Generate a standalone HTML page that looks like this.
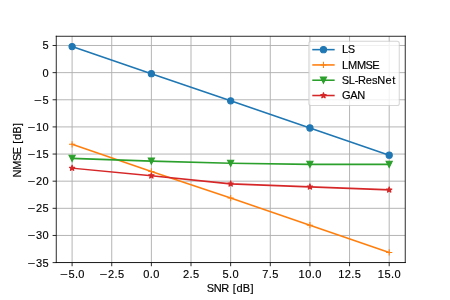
<!DOCTYPE html>
<html lang="en"><head><meta charset="utf-8"><title>NMSE vs SNR</title>
<style>
html,body{margin:0;padding:0;background:#ffffff;overflow:hidden}
svg{display:block}
text{font-family:"Liberation Sans",sans-serif;font-size:10.6px;fill:#000000;stroke:#000000;stroke-width:0.15;stroke-linejoin:round}
.grid line{stroke:#b0b0b0;stroke-width:0.9;stroke-linecap:butt}
.ticks line,.spines line{stroke:#000000;stroke-width:0.8}
.spines line{stroke-linecap:square}
.ser{fill:none;stroke-width:1.5;stroke-linecap:square;stroke-linejoin:round}
</style></head><body>
<svg width="450" height="300" viewBox="0 0 432 288">
<defs>
<clipPath id="ax"><rect x="54" y="34.819" width="334.848" height="217.277"/></clipPath>
<circle id="mo" r="3" stroke-width="1"/>
<path id="mp" d="M-3 0H3M0 3V-3" stroke-width="1" fill="none"/>
<path id="mv" d="M0 3L3 -3L-3 -3Z" stroke-width="1" stroke-linejoin="miter"/>
<path id="ms" d="M0 -3L-0.674 -0.927L-2.853 -0.927L-1.09 0.354L-1.763 2.427L0 1.146L1.763 2.427L1.09 0.354L2.853 -0.927L0.674 -0.927Z" stroke-width="1" stroke-linejoin="bevel"/>
<filter id="soft" x="0" y="0" width="432" height="288" filterUnits="userSpaceOnUse" color-interpolation-filters="sRGB"><feGaussianBlur stdDeviation="0.3"/></filter>
</defs>
<rect x="0" y="0" width="432" height="288" fill="#ffffff"/>
<g filter="url(#soft)">
<g class="grid">
<line x1="69.22" y1="252.096" x2="69.22" y2="34.819"/>
<line x1="107.271" y1="252.096" x2="107.271" y2="34.819"/>
<line x1="145.322" y1="252.096" x2="145.322" y2="34.819"/>
<line x1="183.373" y1="252.096" x2="183.373" y2="34.819"/>
<line x1="221.424" y1="252.096" x2="221.424" y2="34.819"/>
<line x1="259.475" y1="252.096" x2="259.475" y2="34.819"/>
<line x1="297.526" y1="252.096" x2="297.526" y2="34.819"/>
<line x1="335.577" y1="252.096" x2="335.577" y2="34.819"/>
<line x1="373.628" y1="252.096" x2="373.628" y2="34.819"/>
<line x1="54" y1="252.096" x2="388.848" y2="252.096"/>
<line x1="54" y1="226.044" x2="388.848" y2="226.044"/>
<line x1="54" y1="199.991" x2="388.848" y2="199.991"/>
<line x1="54" y1="173.939" x2="388.848" y2="173.939"/>
<line x1="54" y1="147.887" x2="388.848" y2="147.887"/>
<line x1="54" y1="121.834" x2="388.848" y2="121.834"/>
<line x1="54" y1="95.782" x2="388.848" y2="95.782"/>
<line x1="54" y1="69.729" x2="388.848" y2="69.729"/>
<line x1="54" y1="43.677" x2="388.848" y2="43.677"/>
</g>
<g class="xt">
<text x="57.508" y="266.694" textLength="7.522" lengthAdjust="spacingAndGlyphs">−</text>
<text x="65.692 71.937 75.233" y="266.694">5.0</text>
<text x="95.559" y="266.694" textLength="7.522" lengthAdjust="spacingAndGlyphs">−</text>
<text x="103.743 109.988 113.284" y="266.694">2.5</text>
<text x="137.604 143.85 147.145" y="266.694">0.0</text>
<text x="175.655 181.901 185.196" y="266.694">2.5</text>
<text x="213.706 219.951 223.247" y="266.694">5.0</text>
<text x="251.757 258.002 261.298" y="266.694">7.5</text>
<text x="286.627 292.989 299.234 302.53" y="266.694">10.0</text>
<text x="324.677 331.04 337.285 340.581" y="266.694">12.5</text>
<text x="362.728 369.091 375.336 378.632" y="266.694">15.0</text>
</g>
<g class="yt">
<text x="26.325" y="255.895" textLength="7.522" lengthAdjust="spacingAndGlyphs">−</text>
<text x="34.509 40.871" y="255.895">35</text>
<text x="26.325" y="229.843" textLength="7.522" lengthAdjust="spacingAndGlyphs">−</text>
<text x="34.509 40.871" y="229.843">30</text>
<text x="26.325" y="203.79" textLength="7.522" lengthAdjust="spacingAndGlyphs">−</text>
<text x="34.509 40.871" y="203.79">25</text>
<text x="26.325" y="177.738" textLength="7.522" lengthAdjust="spacingAndGlyphs">−</text>
<text x="34.509 40.871" y="177.738">20</text>
<text x="26.325" y="151.686" textLength="7.522" lengthAdjust="spacingAndGlyphs">−</text>
<text x="34.509 40.871" y="151.686">15</text>
<text x="26.325" y="125.633" textLength="7.522" lengthAdjust="spacingAndGlyphs">−</text>
<text x="34.509 40.871" y="125.633">10</text>
<text x="32.688" y="99.581" textLength="7.522" lengthAdjust="spacingAndGlyphs">−</text>
<text x="40.871" y="99.581">5</text>
<text x="40.871" y="73.528">0</text>
<text x="40.871" y="47.476">5</text>
</g>
<text x="198.58 205.201 212.416 219.834 223.374 227.024 233.04 240.484" y="280.373">SNR [dB]</text>
<g transform="translate(19.816 143.938) rotate(-90)">
<text x="-26.569 -19.102 -10.735 -4.402 2.409 5.949 9.599 15.615 23.059" y="0">NMSE [dB]</text>
</g>
<g clip-path="url(#ax)" stroke="#1f77b4" fill="#1f77b4">
<polyline class="ser" points="69.22,44.719 145.322,70.771 221.424,96.824 297.526,122.876 373.628,148.929"/>
<use href="#mo" x="69.22" y="44.719"/>
<use href="#mo" x="145.322" y="70.771"/>
<use href="#mo" x="221.424" y="96.824"/>
<use href="#mo" x="297.526" y="122.876"/>
<use href="#mo" x="373.628" y="148.929"/>
</g>
<g clip-path="url(#ax)" stroke="#ff7f0e" fill="#ff7f0e">
<polyline class="ser" points="69.22,138.508 145.322,164.56 221.424,190.091 297.526,216.144 373.628,242.3"/>
<use href="#mp" x="69.22" y="138.508"/>
<use href="#mp" x="145.322" y="164.56"/>
<use href="#mp" x="221.424" y="190.091"/>
<use href="#mp" x="297.526" y="216.144"/>
<use href="#mp" x="373.628" y="242.3"/>
</g>
<g clip-path="url(#ax)" stroke="#2ca02c" fill="#2ca02c">
<polyline class="ser" points="69.22,152.055 145.322,154.66 221.424,156.744 297.526,157.786 373.628,157.786"/>
<use href="#mv" x="69.22" y="152.055"/>
<use href="#mv" x="145.322" y="154.66"/>
<use href="#mv" x="221.424" y="156.744"/>
<use href="#mv" x="297.526" y="157.786"/>
<use href="#mv" x="373.628" y="157.786"/>
</g>
<g clip-path="url(#ax)" stroke="#d62728" fill="#d62728">
<polyline class="ser" points="69.22,161.434 145.322,168.728 221.424,176.544 297.526,179.41 373.628,182.276"/>
<use href="#ms" x="69.22" y="161.434"/>
<use href="#ms" x="145.322" y="168.728"/>
<use href="#ms" x="221.424" y="176.544"/>
<use href="#ms" x="297.526" y="179.41"/>
<use href="#ms" x="373.628" y="182.276"/>
</g>
<g class="legend" transform="translate(-0.5 0)">
<path d="M299.031 101.273H381.8Q383.8 101.273 383.8 99.273V41.56Q383.8 39.56 381.8 39.56H299.031Q297.031 39.56 297.031 41.56V99.273Q297.031 101.273 299.031 101.273Z" fill="#ffffff" stroke="#cccccc" stroke-width="1" stroke-linejoin="miter" opacity="0.8"/>
<g stroke="#1f77b4" fill="#1f77b4"><line class="ser" x1="301.031" y1="47.658" x2="321.031" y2="47.658"/><use href="#mo" x="311.031" y="47.658"/></g>
<text x="328.869 334.241" y="51.158">LS</text>
<g stroke="#ff7f0e" fill="#ff7f0e"><line class="ser" x1="301.031" y1="62.337" x2="321.031" y2="62.337"/><use href="#mp" x="311.031" y="62.337"/></g>
<text x="328.869 334.501 343.129 351.497 357.83" y="65.837">LMMSE</text>
<g stroke="#2ca02c" fill="#2ca02c"><line class="ser" x1="301.031" y1="77.015" x2="321.031" y2="77.015"/><use href="#mv" x="311.031" y="77.015"/></g>
<text x="328.67 335.217 340.989 344.205 351.635 357.614 362.782 370.478 376.99" y="80.515">SL-ResNet</text>
<g stroke="#d62728" fill="#d62728"><line class="ser" x1="301.031" y1="91.693" x2="321.031" y2="91.693"/><use href="#ms" x="311.031" y="91.693"/></g>
<text x="328.783 336.665 343.534" y="95.193">GAN</text>
</g>
</g>
<g class="ticks">
<line x1="69.22" y1="252.096" x2="69.22" y2="255.596"/>
<line x1="107.271" y1="252.096" x2="107.271" y2="255.596"/>
<line x1="145.322" y1="252.096" x2="145.322" y2="255.596"/>
<line x1="183.373" y1="252.096" x2="183.373" y2="255.596"/>
<line x1="221.424" y1="252.096" x2="221.424" y2="255.596"/>
<line x1="259.475" y1="252.096" x2="259.475" y2="255.596"/>
<line x1="297.526" y1="252.096" x2="297.526" y2="255.596"/>
<line x1="335.577" y1="252.096" x2="335.577" y2="255.596"/>
<line x1="373.628" y1="252.096" x2="373.628" y2="255.596"/>
<line x1="54" y1="252.096" x2="50.5" y2="252.096"/>
<line x1="54" y1="226.044" x2="50.5" y2="226.044"/>
<line x1="54" y1="199.991" x2="50.5" y2="199.991"/>
<line x1="54" y1="173.939" x2="50.5" y2="173.939"/>
<line x1="54" y1="147.887" x2="50.5" y2="147.887"/>
<line x1="54" y1="121.834" x2="50.5" y2="121.834"/>
<line x1="54" y1="95.782" x2="50.5" y2="95.782"/>
<line x1="54" y1="69.729" x2="50.5" y2="69.729"/>
<line x1="54" y1="43.677" x2="50.5" y2="43.677"/>
</g>
<g class="spines">
<line x1="54.019" y1="252.019" x2="54.019" y2="34.819"/>
<line x1="389.04" y1="252.019" x2="389.04" y2="34.819"/>
<line x1="54.019" y1="252.019" x2="389.04" y2="252.019"/>
<line x1="54.019" y1="34.819" x2="389.04" y2="34.819"/>
</g>
</svg>
</body></html>
